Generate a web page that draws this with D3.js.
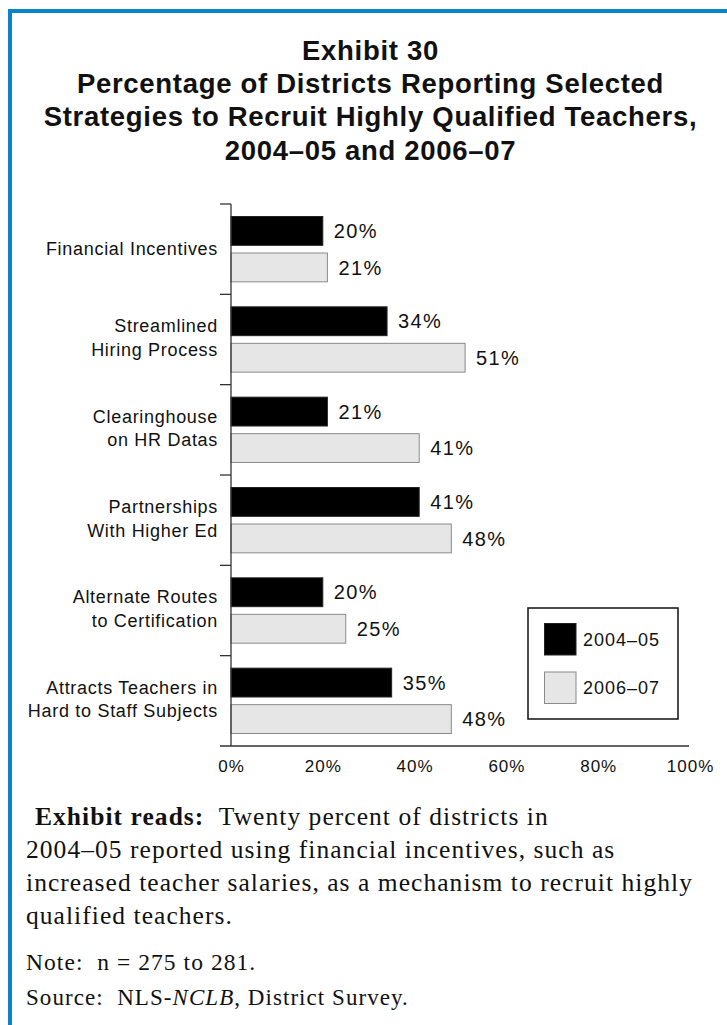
<!DOCTYPE html>
<html>
<head>
<meta charset="utf-8">
<script src="https://cdn.jsdelivr.net/npm/d3@7"></script>
<style>
  html, body { margin: 0; padding: 0; background: #fff; }
  svg { display: block; }
  .sans { font-family: Arial, "Liberation Sans", Helvetica, sans-serif; fill: #111; }
  .serif { font-family: "Liberation Serif", "Times New Roman", serif; fill: #111; }
</style>
</head>
<body>
<script>
// ---- data ----
const categories = [
  ["Financial Incentives"],
  ["Streamlined", "Hiring Process"],
  ["Clearinghouse", "on HR Datas"],
  ["Partnerships", "With Higher Ed"],
  ["Alternate Routes", "to Certification"],
  ["Attracts Teachers in", "Hard to Staff Subjects"]
];
const seriesNames = ["2004\u201305", "2006\u201307"];
const values2004 = [20, 34, 21, 41, 20, 35];
const values2006 = [21, 51, 41, 48, 25, 48];
const xTicks = [0, 20, 40, 60, 80, 100];
const titleLines = [
  "Exhibit 30",
  "Percentage of Districts Reporting Selected",
  "Strategies to Recruit Highly Qualified Teachers,",
  "2004\u201305 and 2006\u201307"
];

const W = 727, H = 1025;
const fills = ["#000000", "#e6e6e6"];
const strokes = ["#222222", "#8a8a8a"];

const svg = d3.select("body").append("svg")
  .attr("width", W).attr("height", H);

// frame (top and left rule)
const frameColor = "#0a84c8";
svg.append("rect").attr("x", 8).attr("y", 9).attr("width", W - 8).attr("height", 4).attr("fill", frameColor);
svg.append("rect").attr("x", 8).attr("y", 9).attr("width", 4).attr("height", H - 9).attr("fill", frameColor);

// title
const title = svg.append("text").attr("class", "sans")
  .attr("text-anchor", "middle")
  .style("font-weight", "bold").style("font-size", "27.5px").style("letter-spacing", "0.7px");
titleLines.forEach((t, i) => {
  title.append("tspan").attr("x", 370.5).attr("y", 60 + i * 33.2).text(t);
});

// scales
const x = d3.scaleLinear().domain([0, 100]).range([231, 690]);
const y = d3.scaleBand().domain(d3.range(categories.length)).range([204, 746]).paddingInner(0).paddingOuter(0);
const ySub = d3.scaleBand().domain([0, 1]).range([12.5, y.bandwidth() - 12.5]).paddingInner(0.21);

const rows = categories.map((c, i) => ({ i, label: c, vals: [values2004[i], values2006[i]] }));

const g = svg.append("g");

// bars
const groups = g.selectAll("g.row").data(rows).join("g")
  .attr("class", "row")
  .attr("transform", d => `translate(0,${y(d.i)})`);

groups.selectAll("rect").data(d => d.vals.map((v, k) => ({ v, k }))).join("rect")
  .attr("x", x(0))
  .attr("y", d => ySub(d.k))
  .attr("width", d => x(d.v) - x(0))
  .attr("height", ySub.bandwidth())
  .attr("fill", d => fills[d.k])
  .attr("stroke", d => strokes[d.k])
  .attr("stroke-width", 1);

// value labels
groups.selectAll("text.val").data(d => d.vals.map((v, k) => ({ v, k }))).join("text")
  .attr("class", "val sans")
  .attr("x", d => x(d.v) + 11)
  .attr("y", d => ySub(d.k) + ySub.bandwidth() / 2)
  .attr("dy", "0.36em")
  .style("font-size", "20px").style("letter-spacing", "1.4px")
  .text(d => d.v + "%");

// category labels
groups.each(function (d) {
  const cy = y.bandwidth() / 2;
  const t = d3.select(this).append("text").attr("class", "sans")
    .attr("text-anchor", "end")
    .style("font-size", "18px").style("letter-spacing", "0.7px");
  const offs = d.label.length === 1 ? [5.5] : [-7, 16.5];
  d.label.forEach((line, j) => {
    t.append("tspan").attr("x", 218).attr("y", cy + offs[j]).text(line);
  });
});

// y axis with group-boundary ticks
const axisColor = "#333";
g.append("line").attr("x1", x(0)).attr("x2", x(0)).attr("y1", 204).attr("y2", 746)
  .attr("stroke", axisColor).attr("stroke-width", 1.3);
const bounds = d3.range(categories.length).map(i => y(i));
g.selectAll("line.btick").data(bounds).join("line")
  .attr("class", "btick")
  .attr("x1", 220).attr("x2", x(0))
  .attr("y1", d => d).attr("y2", d => d)
  .attr("stroke", axisColor).attr("stroke-width", 1.3);

// x axis
const xAxis = d3.axisBottom(x).tickValues(xTicks).tickSize(0).tickPadding(14)
  .tickFormat(d => d + "%");
const xa = g.append("g").attr("transform", "translate(0,746)").call(xAxis);
xa.select(".domain").remove();
xa.selectAll("text").attr("class", "sans").style("font-size", "17px").style("letter-spacing", "1px")
  .attr("fill", "#111").style("font-family", "Arial, 'Liberation Sans', sans-serif");
g.append("line").attr("x1", 220).attr("x2", 689).attr("y1", 746).attr("y2", 746)
  .attr("stroke", axisColor).attr("stroke-width", 1.3);

// legend
const lg = svg.append("g").attr("transform", "translate(528,608)");
lg.append("rect").attr("width", 150).attr("height", 111)
  .attr("fill", "#fff").attr("stroke", "#111").attr("stroke-width", 1.5);
seriesNames.forEach((s, k) => {
  lg.append("rect").attr("x", 16.5).attr("y", 15.5 + k * 48.5)
    .attr("width", 31.5).attr("height", 31.5)
    .attr("fill", fills[k]).attr("stroke", strokes[k]).attr("stroke-width", 1);
  lg.append("text").attr("class", "sans")
    .attr("x", 55).attr("y", 15.5 + k * 48.5 + 15.75).attr("dy", "0.36em")
    .style("font-size", "18px").style("letter-spacing", "1px")
    .text(s);
});

// notes
const notes = svg.append("g").attr("class", "serif").style("font-size", "25.5px").style("letter-spacing", "1.05px");
const n1 = notes.append("text").attr("x", 35).attr("y", 825);
n1.append("tspan").style("font-weight", "bold").text("Exhibit reads:");
n1.append("tspan").text("\u00a0 Twenty percent of districts in");
notes.append("text").attr("x", 26).attr("y", 858).text("2004\u201305 reported using financial incentives, such as");
notes.append("text").attr("x", 26).attr("y", 891).text("increased teacher salaries, as a mechanism to recruit highly");
notes.append("text").attr("x", 26).attr("y", 924).text("qualified teachers.");
notes.append("text").attr("x", 26).attr("y", 970).style("font-size", "23.5px").text("Note:\u00a0 n = 275 to 281.");
const src = notes.append("text").attr("x", 26).attr("y", 1005).style("font-size", "23px");
src.append("tspan").text("Source:\u00a0 NLS-");
src.append("tspan").style("font-style", "italic").text("NCLB");
src.append("tspan").text(", District Survey.");
</script>
</body>
</html>
